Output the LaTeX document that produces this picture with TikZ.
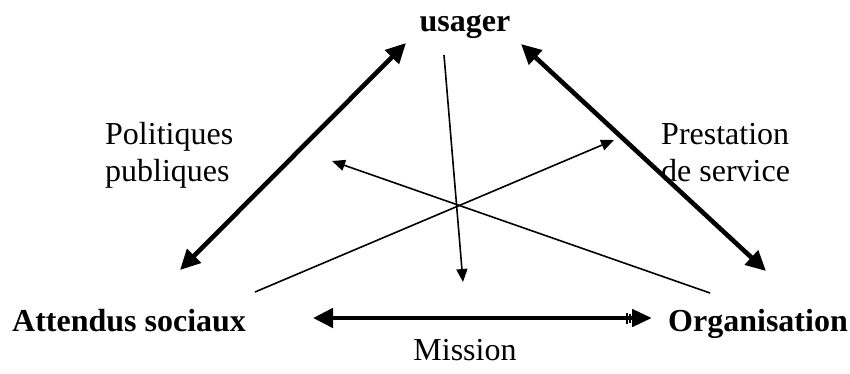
\documentclass[tikz,border=0pt]{standalone}
\usepackage{fontspec}
\setmainfont{Liberation Serif}
\usetikzlibrary{arrows.meta}
\begin{document}
\begin{tikzpicture}[x=1pt,y=-1pt,
  lbl/.style={inner sep=0pt,font=\fontsize{32}{37}\selectfont},
  blbl/.style={inner sep=0pt,font=\fontsize{32}{37}\selectfont\bfseries},
  thick arrow/.style={line width=4.6pt,{Triangle[length=20pt,width=19pt]}-{Triangle[length=20pt,width=19pt]}},
  thin arrow/.style={line width=1.6pt,-{Triangle[length=13pt,width=11pt]}}]
\useasboundingbox (0,0) rectangle (850,374);
\node[blbl,anchor=base] (u) at (465,32) {usager};
\node[blbl,anchor=base west] (a) at (12,331) {Attendus sociaux};
\node[blbl,anchor=base east] (o) at (848,331) {Organisation};
\node[lbl,anchor=base] (m) at (465,360) {Mission};
\node[lbl,anchor=base west,align=left] (pp) at (105,182) {Politiques\\publiques};
\node[lbl,anchor=base west,align=left] (ps) at (661,182) {Prestation\\de service};
% endpoints
\coordinate (ua) at (406,43);
\coordinate (au) at (180,270);
\coordinate (uo) at (521,44);
\coordinate (ou) at (766,271);
\coordinate (am) at (313,318);
\coordinate (om) at (652,318);
\coordinate (us) at (444,55);
\coordinate (ue) at (463,282);
\coordinate (os) at (710,293);
\coordinate (oe) at (332,161);
\coordinate (as) at (255,292);
\coordinate (ae) at (614,140);
\draw[thick arrow] (au) -- (ua);
\draw[thick arrow] (ou) -- (uo);
\draw[line width=4.6pt,{Triangle[length=20pt,width=19pt]}-{Bar[width=11pt,line width=2pt,sep=1pt]Bar[width=9pt,line width=2pt,sep=1pt]Triangle[length=20pt,width=17pt]}] (am) -- (om);
\draw[thin arrow] (us) -- (ue);
\draw[thin arrow] (os) -- (oe);
\draw[thin arrow] (as) -- (ae);
\end{tikzpicture}
\end{document}
